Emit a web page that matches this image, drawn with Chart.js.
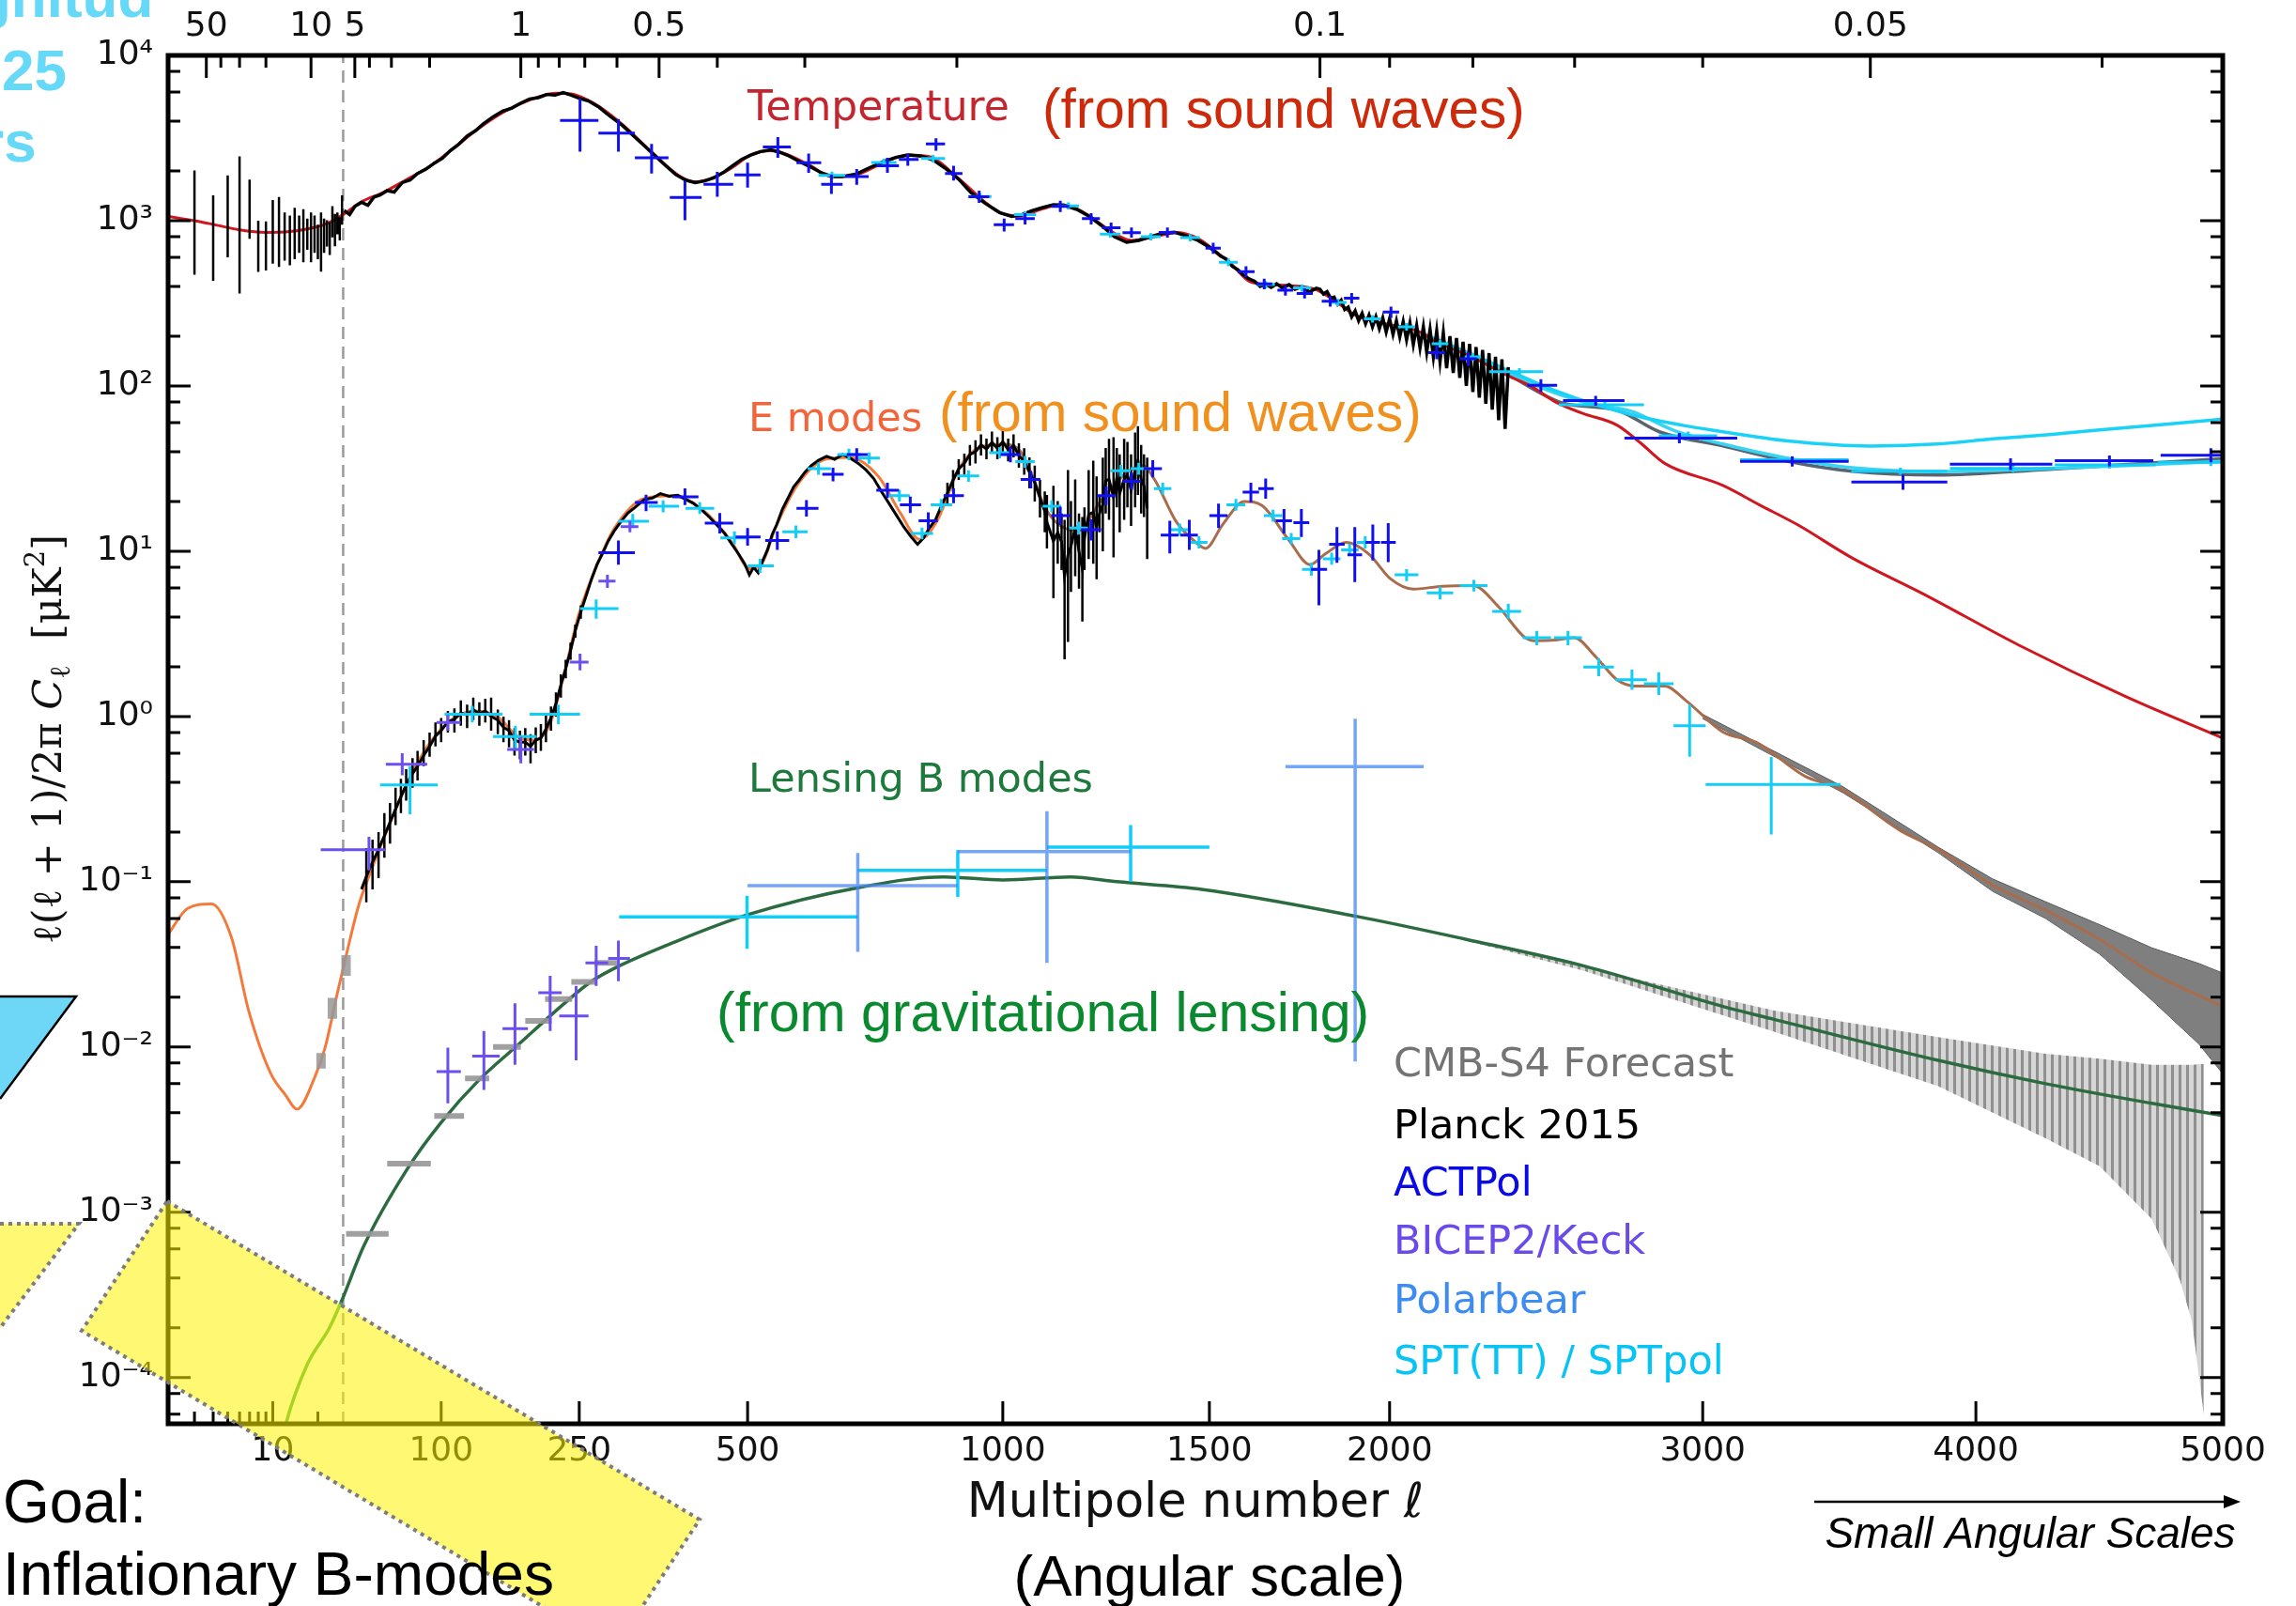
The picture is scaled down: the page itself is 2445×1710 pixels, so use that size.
<!DOCTYPE html>
<html>
<head>
<meta charset="utf-8">
<script src="https://cdn.jsdelivr.net/npm/chart.js@4/dist/chart.umd.min.js"></script>
<style>
  html, body { margin: 0; padding: 0; background: #fff; }
  canvas { display: block; }
</style>
</head>
<body>
<canvas id="cmb" width="2445" height="1710" style="width:2445px;height:1710px"></canvas>
<script>
// ---- axis ticks ----
const bottomMajor = [10, 100, 250, 500, 1000, 1500, 2000, 3000, 4000, 5000];
const bottomMinor = [3, 4, 5, 6, 7, 8, 9, 20];
const thetaMajor = [50, 10, 5, 1, 0.5, 0.1, 0.05];          // degrees
const thetaMinor = [40, 30, 20, 4, 3, 2, 0.9, 0.8, 0.7, 0.6, 0.4, 0.3, 0.2, 0.09, 0.08, 0.07, 0.06, 0.04];
const yPowers = [-4, -3, -2, -1, 0, 1, 2, 3, 4];
const yMinorSubs = [2, 4, 6, 8];
const ellMin = 2, ellMax = 5000, yMin = 5.25e-5, yMax = 1e4;
const lowEllCut = 29.5;   // dashed boundary

// ---- theory spectra [ell, D_ell] ----
const ttTheory = [[2,1060],[3,1000],[4,950],[6,880],[9,850],[13,860],[18,900],[23,960],[30,1100],[40,1300],[54,1480],[70,1750],[91,2150],[110,2700],[135,3600],[160,4500],[180,5100],[200,5600],[221,5900],[240,5850],[260,5400],[276,4900],[308,3800],[349,2600],[392,1850],[414,1720],[440,1800],[470,2050],[506,2500],[539,2650],[570,2500],[610,2150],[650,1850],[697,1900],[750,2250],[798,2500],[840,2450],[904,1800],[960,1300],[993,1120],[1038,1070],[1090,1180],[1131,1250],[1170,1180],[1204,1050],[1250,870],[1302,760],[1360,800],[1418,848],[1470,780],[1510,670],[1560,540],[1604,432],[1660,410],[1714,405],[1785,385],[1840,330],[1901,268],[2000,235],[2081,216],[2150,180],[2236,153],[2360,115],[2430,100],[2515,79],[2600,68],[2710,58],[2790,45],[2870,34],[3070,25],[3200,19],[3336,14.4],[3533,9.1],[3800,5.5],[4168,2.7],[4596,1.32],[5000,0.74]];

const eeTheory = [[2,0.048],[2.7,0.069],[3.9,0.0735],[5.3,0.046],[6.9,0.0166],[9.7,0.0069],[12.2,0.0051],[14.5,0.0042],[19.1,0.0066],[22.4,0.010],[26.7,0.0203],[31.5,0.0375],[38.3,0.072],[44.7,0.108],[57.6,0.212],[74,0.43],[92,0.72],[111.5,0.98],[132.5,1.08],[155,0.99],[179,0.74],[195,0.72],[213,0.88],[231,1.8],[249,4.08],[277.5,9.2],[297,13.9],[338.5,20.9],[382,21.7],[427,17.7],[474,11.3],[503,7.85],[523,8.3],[548,13.9],[588,25.6],[641,36.2],[682,37],[739,28.4],[783,17],[822,11.8],[859,15.4],[904,31.4],[951,42.7],[1000,44.4],[1040,40],[1068,28],[1095,18.5],[1136,14],[1175,13.4],[1226,20],[1288,29.6],[1330,33],[1360,27],[1415,15],[1465,11.3],[1490,10.4],[1535,14.5],[1593,20],[1640,18.9],[1712,11.8],[1772,8.3],[1814,9.6],[1875,11.3],[1940,9.6],[2003,6.8],[2070,5.9],[2157,6.14],[2250,6.2],[2330,4.6],[2413,3.0],[2450,2.87],[2510,2.9],[2570,3.0],[2640,2.3],[2710,1.67],[2770,1.53],[2870,1.53],[2942,1.25],[3070,0.806],[3187,0.697],[3360,0.436],[3487,0.366],[3712,0.204],[3855,0.157],[4065,0.0955],[4273,0.0673],[4490,0.0448],[4704,0.0281],[5000,0.0176]];

const bbLensing = [[10,2.2e-5],[12.2,5.2e-5],[17,1.2e-4],[23.9,2.0e-4],[28.5,2.84e-4],[41.6,6.3e-4],[71.9,1.83e-3],[100,3.5e-3],[135.5,6.3e-3],[176,0.0102],[232,0.0185],[266,0.025],[300,0.0305],[382,0.043],[499,0.063],[699,0.092],[873,0.107],[1001,0.1025],[1155,0.107],[1267,0.100],[1480,0.090],[1900,0.062],[2230,0.0448],[2600,0.031],[3070,0.0176],[3250,0.0147],[3855,0.0083],[4273,0.0060],[4704,0.00456],[5000,0.00385]];

// high-ell temperature models
const sptUpperTT = [[2100,205],[2200,170],[2300,140],[2360,124],[2500,95],[2650,76],[2796,64.4],[2950,57],[3070,52.8],[3300,46.5],[3600,43.3],[3850,44.5],[4065,47.8],[4300,51],[4490,54.2],[4750,58.5],[5000,63]];
const sptLowerTT = [[2100,207],[2300,138],[2450,100],[2600,80],[2760,70],[2900,54],[3070,44.5],[3300,36.5],[3533,32],[3855,30.3],[4273,31.6],[4600,33],[5000,35]];
const s4TT = [[2100,205],[2200,168],[2300,135],[2360,117],[2534,78.8],[2710,71.3],[2852,52.8],[3070,43.3],[3300,35],[3533,30.5],[3855,28.9],[4273,31.2],[4600,33.5],[5000,36.3]];

// ---- Planck 2015 ----
const planckTTLow = [[3,471,2014],[4,432,1425],[5,600,1880],[6,363,2450],[7,776,1770],[8,490,1000],[9,500,990],[10,549,1334],[11,525,1393],[12,573,1122],[13,537,1074],[14,585,1197],[15,638,1074],[16,561,1172],[17,667,1028],[18,561,1122],[19,638,1074],[20,585,944],[21,492,1122],[22,638,1028],[23,697,1007],[24,620,980],[25,793,1224],[26,700,1100],[27,828,1122],[28,760,1050],[29,944,1425]];

const planckTT = [[30,1150],[33,1090],[36,1220],[40,1290],[44,1240],[48,1390],[52,1430],[57,1520],[62,1490],[68,1700],[74,1760],[80,1930],[87,2050],[94,2230],[101,2380],[108,2650],[116,2900],[124,3250],[132,3500],[140,3850],[150,4250],[160,4600],[170,4800],[180,5150],[190,5450],[200,5550],[210,5800],[220,5750],[230,5950],[240,5750],[250,5500],[262,5300],[276,4850],[290,4300],[308,3750],[325,3200],[340,2800],[355,2450],[370,2150],[385,1900],[400,1760],[415,1700],[430,1740],[445,1820],[460,1960],[475,2150],[490,2350],[506,2500],[522,2620],[540,2680],[555,2600],[570,2480],[590,2280],[610,2120],[630,1950],[650,1850],[670,1850],[697,1920],[720,2080],[750,2280],[775,2420],[800,2500],[825,2460],[850,2330],[875,2080],[904,1780],[930,1480],[960,1280],[993,1120],[1020,1060],[1040,1080],[1065,1150],[1090,1200],[1115,1250],[1140,1240],[1170,1170],[1200,1060],[1230,930],[1260,800],[1290,740],[1320,760],[1350,800],[1380,840],[1410,850],[1440,810],[1470,760],[1500,690],[1515,650],[1530,610],[1545,585],[1560,530],[1575,505],[1590,470],[1605,445],[1620,430],[1635,400],[1650,412],[1665,395],[1680,415],[1695,392],[1714,410],[1730,385],[1750,400],[1770,370],[1790,390],[1800,385],[1810,360],[1820,372],[1830,340],[1840,345],[1850,312],[1860,330],[1870,290],[1880,300],[1890,262],[1900,285],[1910,248],[1920,275],[1930,238],[1940,268],[1950,228],[1960,262],[1970,222],[1980,258],[1990,212],[2000,255],[2010,205],[2020,248],[2030,198],[2040,245],[2050,190],[2060,240],[2070,178],[2080,232],[2090,170],[2100,228],[2110,160],[2120,220],[2130,150],[2140,215],[2150,140],[2160,210],[2170,128],[2180,200],[2190,120],[2200,195],[2210,112],[2220,185],[2230,100],[2240,180],[2250,92],[2260,172],[2270,85],[2280,165],[2290,78],[2300,158],[2310,72],[2320,150],[2330,62],[2340,145],[2350,55],[2360,130]];

const planckEE = [[40,0.09],[45,0.12],[50,0.15],[55,0.19],[60,0.24],[65,0.30],[70,0.37],[75,0.44],[80,0.50],[85,0.58],[90,0.66],[95,0.76],[100,0.82],[106,0.93],[112,0.96],[118,1.05],[124,1.02],[130,1.10],[136,1.04],[142,1.08],[148,1.00],[155,0.95],[161,0.86],[167,0.82],[173,0.72],[179,0.70],[185,0.70],[191,0.66],[197,0.72],[203,0.74],[209,0.84],[215,0.98],[221,1.2],[227,1.55],[233,1.95],[239,2.5],[245,3.3],[252,4.3],[259,5.4],[266,6.8],[273,8.3],[280,9.6],[288,11.5],[296,13.2],[305,15.0],[315,17.0],[325,18.4],[338,20.5],[350,21.0],[362,22.3],[375,21.5],[388,21.8],[400,20.6],[412,19.5],[425,17.8],[438,16.0],[450,14.3],[462,12.8],[474,11.0],[485,9.6],[495,8.4],[503,7.2],[510,8.0],[518,7.4],[526,8.8],[534,10.2],[542,12.6],[550,14.5],[560,18.0],[570,21.0],[580,24.5],[590,27.0],[600,30.0],[612,33.0],[625,35.5],[640,37.5],[655,36.0],[670,38.5],[685,36.5],[700,34.0],[715,31.0],[730,27.5],[745,23.0],[760,19.5],[775,16.5],[790,14.0],[805,12.2],[818,11.0],[830,12.0],[842,13.8],[855,15.5],[868,19.0],[880,22.5],[892,27.0],[904,31.5],[916,34.0],[928,38.5],[940,40.0],[952,44.0],[964,41.5],[976,45.5],[988,42.0],[1000,46.0],[1012,41.0],[1024,43.5],[1036,38.0],[1048,35.0],[1060,30.0],[1072,26.0],[1084,21.0],[1095,17.5],[1100,15],[1115,11.5],[1125,13],[1134,11.4],[1141,7],[1149,9.5],[1156,10.7],[1166,13.9],[1175,10],[1183,7.8],[1188,12],[1198,16.7],[1209,17.2],[1217,13.9],[1224,16.9],[1232,19.2],[1239,26.7],[1247,27.2],[1258,21.2],[1266,27.8],[1273,22.4],[1284,27.2],[1292,29],[1301,23.4],[1311,31],[1318,35.4],[1326,27.2],[1333,24.9],[1341,18.2]];

// [ell, lo, hi]
const planckEEBars = [[43,0.075,0.16],[47,0.09,0.18],[51,0.105,0.20],[55,0.14,0.26],[59,0.17,0.30],[63,0.22,0.37],[67,0.26,0.42],[71,0.31,0.48],[76,0.37,0.56],[80,0.41,0.62],[85,0.50,0.72],[90,0.57,0.80],[95,0.66,0.92],[100,0.70,0.98],[106,0.80,1.08],[112,0.80,1.12],[118,0.88,1.25],[124,0.85,1.18],[130,0.95,1.30],[136,0.88,1.22],[142,0.92,1.28],[148,0.82,1.30],[155,0.78,1.10],[161,0.70,1.00],[167,0.65,0.95],[173,0.58,0.85],[179,0.55,0.82],[185,0.58,0.85],[191,0.52,0.78],[197,0.60,0.86],[203,0.62,0.90],[209,0.70,1.05],[215,0.82,1.15],[221,1.0,1.4],[227,1.3,1.8],[233,1.7,2.2],[239,2.2,2.8],[245,3.0,3.6],[252,3.9,4.7],
  [880,19,26],[892,23,31],[904,27,36],[916,29,39],[928,33,44],[940,34,47],[952,38,51],[964,36,48],[976,39,53],[988,36,49],[1000,39,54],[1012,35,48],[1024,37,51],[1036,32,45],[1048,29,42],[1060,24,37],[1072,20,33],[1084,16,27],[1095,13,23],
  [1100,10.4,21.9],[1115,5.2,24.9],[1125,8.4,20.1],[1134,7.7,16.9],[1141,2.22,15.5],[1149,2.83,31],[1156,5.68,20.1],[1166,7.06,27.2],[1175,5.93,16.9],[1183,3.75,16.1],[1188,7.7,18.4],[1198,8.97,31],[1209,8.4,35.3],[1217,6.76,28.4],[1224,13.0,21.9],[1232,10.0,36.9],[1239,16.9,42.1],[1247,15.5,47.9],[1258,9.17,49],[1266,18.4,42.1],[1273,13.0,38.6],[1284,15.5,47.9],[1292,18.4,45.9],[1301,14.2,38.6],[1311,18.4,52.3],[1318,21.9,57.1],[1326,16.9,43.9],[1333,16.1,38.6],[1341,8.97,36.9]];

// ---- band powers [ell, ellMin, ellMax, D, Dlo, Dhi] ----
const actpolTT = [[251,226,275,4035,2612,5470],[302,275,325,3390,2612,4125],[349,325,374,2400,1932,2912],[399,376,425,1382,1007,1730],[450,428,476,1660,1394,1974],[500,478,522,1890,1588,2245],[552,526,575,2790,2400,3200],[607,585,630,2245,1950,2550],[649,630,670,1660,1450,1900],[697,675,720,1850,1650,2050],[757,735,780,2150,1950,2400],[798,780,820,2345,2150,2550],[856,835,875,2912,2650,3150],[893,875,912,1930,1750,2150],[948,925,970,1394,1280,1520],[1003,980,1025,944,860,1030],[1050,1028,1072,1028,950,1110],[1131,1110,1152,1222,1130,1320],[1204,1182,1225,1030,950,1110],[1252,1230,1275,905,840,975],[1302,1280,1325,847,790,910],[1392,1370,1415,848,790,910],[1510,1490,1530,681,630,735],[1597,1575,1620,492,455,530],[1646,1625,1668,414,385,445],[1704,1682,1725,379,352,408],[1757,1735,1780,363,338,390],[1829,1805,1850,326,302,350],[1890,1868,1912,340,315,365],[2004,1980,2028,280,258,302],[2140,2115,2165,159,145,175],[2236,2210,2262,146,132,160],[2463,2420,2515,101,92,110],[2640,2534,2735,81.5,76,87],[2920,2735,3120,48.3,45,52],[3315,3130,3520,35,32.5,37.5],[3722,3530,3890,26.2,23.5,29],[4135,3900,4300,33.6,31,36.5],[4530,4310,4710,35.3,32.5,38],[4950,4740,5000,38.1,34.5,42]];

const actpolEE = [[302,275,325,9.8,8.3,11.6],[341,325,358,19.7,17.5,22],[399,380,420,21.3,19,24],[454,430,476,14.8,12.8,17],[500,480,522,12.2,10.8,13.8],[551,530,572,11.6,10.2,13.2],[603,585,625,18.2,16.2,20.4],[652,632,672,29.2,26.5,32],[697,678,718,38.5,35,42],[757,735,780,23.4,21,26],[803,782,825,19.1,17,21.4],[840,820,860,15.3,13.6,17.2],[893,872,915,21.7,19.5,24],[1017,995,1040,38.5,34.5,43],[1063,1040,1085,27.2,24,30.5],[1131,1110,1155,16.4,14.4,18.6],[1204,1180,1228,13.5,11.6,15.6],[1240,1218,1262,21.7,19,24.6],[1302,1280,1325,26.5,23.5,30],[1355,1332,1378,31.6,28,35.5],[1398,1375,1420,12.5,9.7,15.3],[1448,1425,1470,12.5,10.2,15.5],[1524,1500,1548,16.4,13.8,19.4],[1610,1588,1632,22.8,19.8,26],[1650,1630,1672,23.9,20.8,27.5],[1700,1678,1722,15.3,12.8,18],[1748,1726,1770,14.9,12.2,18],[1797,1775,1820,7.76,4.7,10.2],[1848,1826,1870,11.0,8.5,14],[1899,1878,1920,9.5,6.5,14],[1951,1930,1972,11.3,8.8,14.5],[1996,1975,2018,11.3,8.6,14.8]];

const sptTT = [[650,625,675,1880,1780,1980],[750,725,775,2250,2130,2370],[850,825,875,2380,2250,2500],[950,925,975,1400,1330,1470],[1050,1025,1075,1090,1040,1140],[1150,1125,1175,1230,1170,1290],[1250,1225,1275,830,790,870],[1350,1325,1375,800,760,840],[1450,1425,1475,790,750,830],[1550,1525,1575,560,530,590],[1650,1625,1675,410,390,430],[1750,1725,1775,392,372,412],[1850,1825,1875,320,304,336],[1950,1925,1975,255,242,268],[2050,2025,2075,228,216,240],[2150,2125,2175,180,171,189],[2250,2225,2275,150,142,158],[2395,2300,2470,122,116,128],[2670,2520,2800,77,73,81],[2950,2850,3050,50,47,53],[3315,3130,3520,35.8,34,37.6],[3712,3530,3890,30.5,29,32],[4145,3900,4310,31.7,30,33.4],[4530,4310,4720,33.3,31.6,35],[4950,4730,5000,34.5,32.8,36.2]];

const sptEE = [[74,52,97,0.386,0.256,0.50],[129,103,160,1.03,0.92,1.16],[174,150,198,0.757,0.64,0.88],[224,190,251,1.03,0.90,1.18],[272,251,302,4.5,3.9,5.1],[322,302,345,15.2,13.8,16.8],[366,345,390,18.7,17.2,20.3],[422,400,445,18.2,16.8,19.8],[478,455,500,12.05,11,13.2],[521,500,545,8.16,7.4,9],[584,560,605,13.1,12,14.3],[625,605,648,31.6,29,34.4],[682,660,705,38.5,35.5,41.7],[721,700,742,36.6,33.8,39.6],[781,760,802,21.7,20,23.5],[827,805,850,12.8,11.8,13.9],[867,845,890,19.1,17.6,20.7],[925,902,948,28.5,26.3,30.9],[993,970,1015,39.5,36.5,42.7],[1050,1028,1072,34.8,32,37.7],[1111,1090,1133,18.7,17.2,20.3],[1174,1152,1196,13.8,12.6,15.1],[1276,1250,1300,30.7,28.3,33.3],[1320,1300,1345,31.6,29,34.3],[1380,1358,1402,23.9,22,26],[1423,1400,1445,13.5,12.4,14.7],[1473,1450,1495,11.3,10.4,12.3],[1570,1545,1595,19.1,17.6,20.7],[1670,1645,1695,16.4,15.1,17.8],[1720,1695,1745,11.9,11,12.9],[1776,1750,1800,7.76,7.1,8.5],[1833,1808,1858,9.0,8.3,9.8],[1884,1860,1910,10.2,9.4,11.1],[1929,1905,1955,11.3,10.4,12.3],[2050,2015,2085,7.2,6.6,7.8],[2150,2110,2190,5.6,5.1,6.1],[2253,2210,2295,6.2,5.7,6.7],[2360,2310,2400,4.33,3.9,4.8],[2450,2405,2495,3.0,2.7,3.3],[2550,2505,2595,3.0,2.7,3.3],[2650,2600,2700,1.99,1.75,2.25],[2760,2705,2810,1.67,1.45,1.92],[2850,2800,2900,1.58,1.35,1.85],[2955,2900,3010,0.88,0.57,1.18],[3240,3010,3490,0.388,0.193,0.568]];

const sptBB = [[499,303,699,0.0612,0.0393,0.0824],[902,699,1100,0.117,0.081,0.155],[1300,1100,1500,0.162,0.10,0.22]];

const bicepEE = [[44.7,20.9,55.9,0.156,0.117,0.187],[68,56,88,0.514,0.44,0.60],[106,96,118,0.92,0.82,1.02],[180,165,195,0.632,0.52,0.75],[251,238,262,2.13,1.9,2.4],[287,275,298,6.6,6.0,7.2],[318,305,330,14.1,13,15.3]];
const bicepBB = [[106,96,118,0.0071,0.00457,0.0099],[140.6,129,157,0.0088,0.0055,0.0125],[173.5,160,188,0.0129,0.0078,0.0184],[214,200,228,0.0213,0.0125,0.027],[246,225,262,0.0154,0.0083,0.0234],[272,258,288,0.0323,0.0234,0.041],[302,288,318,0.0343,0.025,0.044]];

const polarbearBB = [[699,500,902,0.0947,0.0376,0.149],[1100,902,1300,0.152,0.0323,0.267],[1900,1704,2101,0.497,0.00816,0.968]];

// ---- CMB-S4 forecast ----
const s4BBLow = [[31,58,7.4e-4],[57,91,1.97e-3],[94,121,3.83e-3],[122,146,6.46e-3],[150,180,0.0100],[185,216,0.0144],[208,241,0.0195],[240,272,0.0248],[270,300,0.0323]];  // [ellMin, ellMax, D]
const s4EELow = [[21,0.0074,0.0092],[25,0.0148,0.0198],[31,0.027,0.036]];   // [ell, lo, hi]
const s4EEBand = [[3000,0.97,1.03],[3500,0.345,0.375],[3855,0.150,0.162],[4065,0.0875,0.104],[4273,0.060,0.0757],[4490,0.0365,0.055],[4704,0.0192,0.0398],[4900,0.0104,0.032],[5000,0.0069,0.028]];
const s4BBBand = [[2200,0.0455,0.0465],[2600,0.029,0.0305],[3250,0.0124,0.0166],[3855,0.0058,0.0115],[4273,0.0028,0.0091],[4490,0.0019,0.0085],[4704,0.00091,0.0078],[4820,0.00039,0.0078],[4870,0.00022,0.0078],[4920,0.00006,0.0079]];

// ---- multipole axis: log below l = 30, l^0.6 above ----
const SPLIT = 30, POW = 0.6, LOG_GAIN = 12.6;
function warp(l) {
  return l >= SPLIT ? Math.pow(l, POW) : Math.pow(SPLIT, POW) + LOG_GAIN * Math.log10(l / SPLIT);
}
function unwarp(u) {
  const g0 = Math.pow(SPLIT, POW);
  return u >= g0 ? Math.pow(u, 1 / POW) : SPLIT * Math.pow(10, (u - g0) / LOG_GAIN);
}

class MultipoleScale extends Chart.Scale {
  parse(raw) {
    if (raw === null || raw === undefined) return null;
    const v = +raw;
    return isFinite(v) ? v : null;
  }
  determineDataLimits() {
    this.min = this.options.min;
    this.max = this.options.max;
  }
  buildTicks() { return []; }
  configure() {
    super.configure();
    this._g0 = warp(this.min);
    this._gSpan = warp(this.max) - this._g0;
  }
  getLabelForValue(v) { return String(v); }
  getPixelForValue(v) {
    if (v === null || v === undefined || isNaN(v)) return NaN;
    return this.getPixelForDecimal((warp(v) - this._g0) / this._gSpan);
  }
  getValueForPixel(px) {
    return unwarp(this._g0 + this.getDecimalForPixel(px) * this._gSpan);
  }
}
MultipoleScale.id = 'multipole';
MultipoleScale.defaults = {};
Chart.register(MultipoleScale);

// ---- point builders ----
const gap = () => ({x: null, y: null});
const curvePts = rows => rows.map(([l, d]) => ({x: l, y: d}));
function crossPts(rows) {
  const out = [];
  for (const [l, l0, l1, d, d0, d1] of rows) {
    out.push({x: l0, y: d}, {x: l1, y: d}, gap(), {x: l, y: d0}, {x: l, y: d1}, gap());
  }
  return out;
}
function barPts(rows) {
  const out = [];
  for (const [l, lo, hi] of rows) out.push({x: l, y: lo}, {x: l, y: hi}, gap());
  return out;
}
function dashPts(rows) {
  const out = [];
  for (const [l0, l1, d] of rows) out.push({x: l0, y: d}, {x: l1, y: d}, gap());
  return out;
}

function segs(data, color, width, order) {
  return {data, borderColor: color, borderWidth: width, pointRadius: 0, tension: 0,
          fill: false, order, borderCapStyle: 'butt', spanGaps: false};
}
function smooth(rows, color, width, order, extra) {
  return Object.assign({data: curvePts(rows), borderColor: color, borderWidth: width,
          pointRadius: 0, cubicInterpolationMode: 'monotone', fill: false, order}, extra || {});
}

const canvas = document.getElementById('cmb');
const ctx0 = canvas.getContext('2d');

// vertical hatching for the lensing forecast band
const tile = document.createElement('canvas');
tile.width = 8; tile.height = 8;
const tctx = tile.getContext('2d');
tctx.fillStyle = '#d6d6d6';
tctx.fillRect(0, 0, 8, 8);
tctx.fillStyle = '#8f8f8f';
tctx.fillRect(0, 0, 3, 8);
const hatch = ctx0.createPattern(tile, 'repeat');

const datasets = [
  // crosses, on top
  segs(crossPts(actpolTT), '#1010f0', 3, 1),
  segs(crossPts(actpolEE), '#1010f0', 3, 1),
  segs(crossPts(bicepEE), '#6b4ff0', 3, 2),
  segs(crossPts(bicepBB), '#6b4ff0', 3, 2),
  segs(crossPts(polarbearBB), 'rgba(70,135,245,0.75)', 3.5, 3),
  segs(crossPts(sptTT), '#12cdf7', 3, 4),
  segs(crossPts(sptEE), '#12cdf7', 3, 4),
  segs(crossPts(sptBB), '#12cdf7', 3.5, 4),
  // CMB-S4 low-ell forecast
  segs(dashPts(s4BBLow), 'rgba(150,150,150,0.9)', 6, 5),
  segs(barPts(s4EELow), 'rgba(150,150,150,0.85)', 10, 5),
  // Planck 2015
  segs(barPts(planckTTLow), '#000', 2.5, 6),
  segs(curvePts(planckTT), '#000', 3.5, 6),
  segs(barPts(planckEEBars), '#000', 2.5, 6),
  segs(curvePts(planckEE), '#000', 3, 6),
  // theory and model curves
  smooth(ttTheory, '#d0161e', 3, 7),
  smooth(eeTheory, '#f47a3c', 3, 7, {segment: {borderColor: c => c.p1.parsed.x <= 1000 ? '#f47a3c' : '#a86d4d'}}),
  smooth(bbLensing, '#2c6b40', 3.5, 7, {segment: {borderColor: c => c.p1.parsed.x <= 30 ? '#3fae4c' : '#2c6b40'}}),
  smooth(sptUpperTT, '#1ad2f7', 3.5, 8),
  smooth(sptLowerTT, '#38d4f2', 3.5, 8),
  smooth(s4TT, '#5a6470', 3.5, 8),
  // forecast bands
  {data: s4EEBand.map(([l, lo, hi]) => ({x: l, y: hi})), borderColor: '#5a5a5a', borderWidth: 1,
   backgroundColor: 'rgba(105,105,105,0.85)', fill: '+1', pointRadius: 0, tension: 0, order: 9},
  {data: s4EEBand.map(([l, lo]) => ({x: l, y: lo})), borderColor: '#5a5a5a', borderWidth: 1,
   pointRadius: 0, tension: 0, fill: false, order: 9},
  {data: s4BBBand.map(([l, lo, hi]) => ({x: l, y: hi})), borderColor: 'rgba(0,0,0,0)', borderWidth: 0,
   backgroundColor: hatch, fill: '+1', pointRadius: 0, tension: 0, order: 9},
  {data: s4BBBand.map(([l, lo]) => ({x: l, y: lo})), borderColor: 'rgba(0,0,0,0)', borderWidth: 0,
   pointRadius: 0, tension: 0, fill: false, order: 9},
  // low-ell boundary
  {data: [{x: lowEllCut, y: yMin}, {x: lowEllCut, y: yMax}], borderColor: '#9a9a9a', borderWidth: 2.5,
   borderDash: [13, 8], pointRadius: 0, fill: false, order: 10}
];

// ---- frame and inward ticks ----
const MAJOR = 24, MINOR = 13;
const frameTicks = {
  id: 'frameTicks',
  afterDatasetsDraw(chart) {
    const {ctx, chartArea: a, scales} = chart;
    const xb = scales.x, xt = scales.x2, y = scales.y;
    ctx.save();
    ctx.strokeStyle = '#000';
    ctx.lineWidth = 3;
    ctx.beginPath();
    const vTick = (px, y0, len) => { ctx.moveTo(px, y0); ctx.lineTo(px, y0 + len); };
    const hTick = (py, x0, len) => { ctx.moveTo(x0, py); ctx.lineTo(x0 + len, py); };
    bottomMajor.forEach(l => vTick(xb.getPixelForValue(l), a.bottom, -MAJOR));
    bottomMinor.forEach(l => vTick(xb.getPixelForValue(l), a.bottom, -MINOR));
    thetaMajor.forEach(t => vTick(xt.getPixelForValue(180 / t), a.top, MAJOR));
    thetaMinor.forEach(t => vTick(xt.getPixelForValue(180 / t), a.top, MINOR));
    for (let p = -5; p <= 4; p++) {
      const v = Math.pow(10, p);
      if (v >= yMin && v <= yMax) {
        const py = y.getPixelForValue(v);
        hTick(py, a.left, MAJOR); hTick(py, a.right, -MAJOR);
      }
      for (const m of yMinorSubs) {
        const w = m * v;
        if (w < yMin || w > yMax) continue;
        const py = y.getPixelForValue(w);
        hTick(py, a.left, MINOR); hTick(py, a.right, -MINOR);
      }
    }
    ctx.stroke();
    ctx.lineWidth = 5;
    ctx.strokeRect(a.left, a.top, a.right - a.left, a.bottom - a.top);
    ctx.restore();
  }
};

// ---- labels and slide overlays ----
const plotLabels = [
  {t: 'Temperature', x: 796, y: 128, font: '44px "DejaVu Sans"', c: '#c3262e'},
  {t: '(from sound waves)', x: 1110, y: 136, font: '58.5px "Liberation Sans"', c: '#cc2a0a'},
  {t: 'E modes', x: 797, y: 459, font: '43px "DejaVu Sans"', c: '#f2643a'},
  {t: '(from sound waves)', x: 1000, y: 459, font: '58.5px "Liberation Sans"', c: '#f0901e'},
  {t: 'Lensing B modes', x: 797, y: 843, font: '43px "DejaVu Sans"', c: '#1e7a3c'},
  {t: '(from gravitational lensing)', x: 763, y: 1098, font: '59px "Liberation Sans"', c: '#0a8a2e'}
];
const legendRows = [
  {t: 'CMB-S4 Forecast', y: 1146, c: '#747474'},
  {t: 'Planck 2015', y: 1212, c: '#000000'},
  {t: 'ACTPol', y: 1273, c: '#0a0ae6'},
  {t: 'BICEP2/Keck', y: 1335, c: '#6a4ae8'},
  {t: 'Polarbear', y: 1398, c: '#3d8cf2'},
  {t: 'SPT(TT) / SPTpol', y: 1463, c: '#08c4f4'}
];

function put(ctx, t, x, y, font, color, align) {
  ctx.font = font;
  ctx.fillStyle = color;
  ctx.textAlign = align || 'left';
  ctx.textBaseline = 'alphabetic';
  ctx.fillText(t, x, y);
}
function poly(ctx, pts) {
  ctx.beginPath();
  pts.forEach(([px, py], i) => i ? ctx.lineTo(px, py) : ctx.moveTo(px, py));
}

function drawYTitle(ctx) {
  const parts = [
    {t: 'ℓ(ℓ + 1)/2π ', f: '43px "DejaVu Serif"', dy: 0},
    {t: 'C', f: 'italic 43px "DejaVu Serif"', dy: 0},
    {t: 'ℓ', f: '30px "DejaVu Serif"', dy: 9},
    {t: '  [μK', f: '43px "DejaVu Serif"', dy: 0},
    {t: '2', f: '29px "DejaVu Serif"', dy: -18},
    {t: ']', f: '43px "DejaVu Serif"', dy: 0}
  ];
  ctx.save();
  ctx.translate(65, 787);
  ctx.rotate(-Math.PI / 2);
  let total = 0;
  parts.forEach(p => { ctx.font = p.f; p.w = ctx.measureText(p.t).width; total += p.w; });
  let x = -total / 2;
  ctx.fillStyle = '#111';
  ctx.textBaseline = 'alphabetic';
  ctx.textAlign = 'left';
  parts.forEach(p => { ctx.font = p.f; ctx.fillText(p.t, x, p.dy); x += p.w; });
  ctx.restore();
}

const overlays = {
  id: 'overlays',
  afterDraw(chart) {
    const ctx = chart.ctx;
    ctx.save();
    plotLabels.forEach(l => put(ctx, l.t, l.x, l.y, l.font, l.c));
    legendRows.forEach(r => put(ctx, r.t, 1484, r.y, '43px "DejaVu Sans"', r.c));
    drawYTitle(ctx);

    // bottom captions
    put(ctx, '(Angular scale)', 1288, 1699, '62px "Liberation Sans"', '#000', 'center');
    put(ctx, 'Small Angular Scales', 2162, 1648, 'italic 46px "Liberation Sans"', '#000', 'center');
    ctx.strokeStyle = '#000';
    ctx.lineWidth = 2.5;
    ctx.beginPath(); ctx.moveTo(1932, 1599); ctx.lineTo(2372, 1599); ctx.stroke();
    ctx.fillStyle = '#000';
    poly(ctx, [[2386, 1599], [2368, 1592], [2368, 1606]]); ctx.closePath(); ctx.fill();

    // slide fragments along the left edge
    ctx.fillStyle = '#6ed6f6';
    poly(ctx, [[0, 1061], [81, 1061], [0, 1170]]); ctx.closePath(); ctx.fill();
    ctx.strokeStyle = '#000'; ctx.lineWidth = 2.5;
    poly(ctx, [[0, 1061], [81, 1061], [0, 1170]]); ctx.stroke();
    put(ctx, 'gnitud', -26, 18, 'bold 62px "Liberation Sans"', '#66d8f8');
    put(ctx, '25', 2, 96, 'bold 62px "Liberation Sans"', '#66d8f8');
    put(ctx, 'rs', -20, 172, 'bold 62px "Liberation Sans"', '#66d8f8');

    // highlighted region
    ctx.fillStyle = 'rgba(255,243,0,0.55)';
    poly(ctx, [[0, 1303], [84, 1303], [0, 1414]]); ctx.closePath(); ctx.fill();
    poly(ctx, [[178, 1279], [745, 1618], [654, 1756], [87, 1417]]); ctx.closePath(); ctx.fill();
    ctx.setLineDash([4, 5]);
    ctx.strokeStyle = '#7c7c7c'; ctx.lineWidth = 4;
    poly(ctx, [[0, 1303], [84, 1303], [0, 1414]]); ctx.stroke();
    poly(ctx, [[178, 1279], [745, 1618], [654, 1756], [87, 1417]]); ctx.closePath(); ctx.stroke();
    ctx.setLineDash([]);

    put(ctx, 'Goal:', 3, 1621, '64px "Liberation Sans"', '#000');
    put(ctx, 'Inflationary B-modes', 3, 1698, '64px "Liberation Sans"', '#000');
    ctx.restore();
  }
};

const sup = {'-': '⁻', '0': '⁰', '1': '¹', '2': '²', '3': '³', '4': '⁴'};
const powLabel = v => '10' + String(Math.round(Math.log10(v))).split('').map(ch => sup[ch]).join('');
const tickFont = {family: 'DejaVu Sans', size: 36};

new Chart(canvas, {
  type: 'line',
  data: {datasets},
  options: {
    responsive: false,
    devicePixelRatio: 1,
    animation: false,
    events: [],
    layout: {padding: {left: 0, top: 0, right: 78, bottom: 0}},
    plugins: {legend: {display: false}, tooltip: {enabled: false}},
    scales: {
      x: {
        type: 'multipole', position: 'bottom', min: ellMin, max: ellMax,
        grid: {display: false, drawTicks: false}, border: {display: false},
        ticks: {font: tickFont, color: '#111', padding: 8, autoSkip: false, maxRotation: 0},
        afterBuildTicks: s => { s.ticks = bottomMajor.map(v => ({value: v})); },
        afterFit: s => { s.height = 194; },
        title: {display: true, text: 'Multipole number ℓ', color: '#111',
                font: {family: 'DejaVu Sans', size: 51}, padding: {top: 0, bottom: 78}}
      },
      x2: {
        type: 'multipole', position: 'top', min: ellMin, max: ellMax,
        grid: {display: false, drawTicks: false}, border: {display: false},
        ticks: {font: tickFont, color: '#111', padding: 9, autoSkip: false, maxRotation: 0,
                callback: (v, i) => String(thetaMajor[i])},
        afterBuildTicks: s => { s.ticks = thetaMajor.map(t => ({value: 180 / t})); },
        afterFit: s => { s.height = 59; }
      },
      y: {
        type: 'logarithmic', position: 'left', min: yMin, max: yMax,
        grid: {display: false, drawTicks: false}, border: {display: false},
        ticks: {font: tickFont, color: '#111', padding: 16, autoSkip: false, callback: v => powLabel(v)},
        afterBuildTicks: s => { s.ticks = yPowers.map(p => ({value: Math.pow(10, p)})); },
        afterFit: s => { s.height = s.height; s.width = 179; }
      }
    }
  },
  plugins: [frameTicks, overlays]
});
</script>
</body>
</html>
